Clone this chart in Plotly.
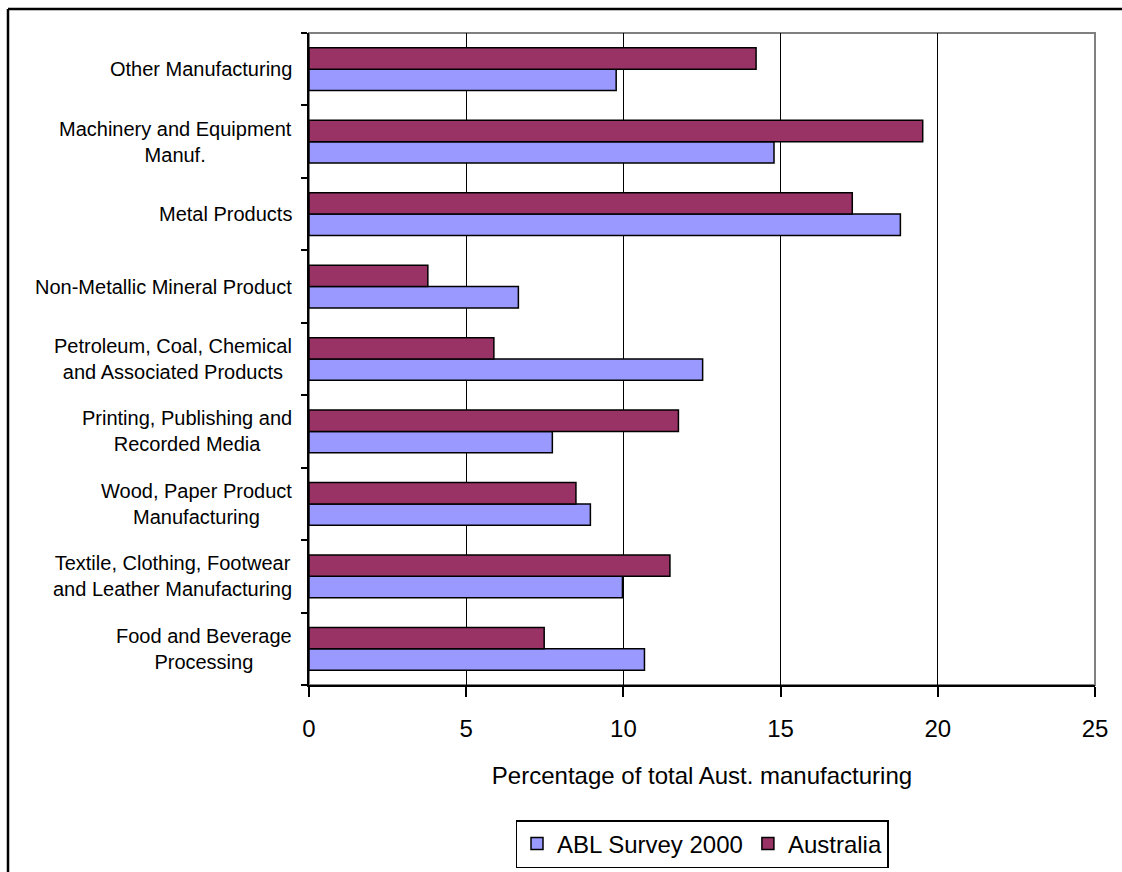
import plotly.graph_objects as go

categories = [
    "Food and Beverage<br>Processing",
    "Textile, Clothing, Footwear<br>and Leather Manufacturing",
    "Wood, Paper Product<br>Manufacturing",
    "Printing, Publishing and<br>Recorded Media",
    "Petroleum, Coal, Chemical<br>and Associated Products",
    "Non-Metallic Mineral Product",
    "Metal Products",
    "Machinery and Equipment<br>Manuf.",
    "Other Manufacturing",
]
abl_survey_2000 = [10.67, 9.97, 8.95, 7.74, 12.52, 6.66, 18.81, 14.79, 9.77]
australia = [7.48, 11.48, 8.49, 11.75, 5.88, 3.78, 17.28, 19.52, 14.22]
x_ticks = [0, 5, 10, 15, 20, 25]

FONT = "Liberation Sans, Arial, sans-serif"

fig = go.Figure()
fig.add_trace(go.Bar(
    y=categories, x=abl_survey_2000, orientation="h", name="ABL Survey 2000",
    marker=dict(color="#9999FF", line=dict(color="black", width=1.5)),
))
fig.add_trace(go.Bar(
    y=categories, x=australia, orientation="h", name="Australia",
    marker=dict(color="#993366", line=dict(color="black", width=1.5)),
))

W, H = 1122, 872
L, R, T, B = 309, 27, 33, 187
pw, ph = W - L - R, H - T - B

for c in categories:
    fig.add_annotation(
        x=0, xref="paper", y=c, yref="y", text=c, showarrow=False,
        xanchor="right", xshift=-15, align="center",
        font=dict(family=FONT, size=20, color="black"),
    )

# plot-area border (gray)
fig.add_shape(type="rect", xref="paper", yref="paper", x0=0, x1=1, y0=0, y1=1,
              line=dict(color="#808080", width=2), layer="between")
# outer chart border (only top and left visible, like the source)
fig.add_shape(type="line", xref="paper", yref="paper",
              x0=(8 - L) / pw, x1=(W + 20 - L) / pw,
              y0=(T + ph - 9) / ph, y1=(T + ph - 9) / ph,
              line=dict(color="black", width=2.5), layer="above")
fig.add_shape(type="line", xref="paper", yref="paper",
              x0=(8 - L) / pw, x1=(8 - L) / pw,
              y0=(T + ph - (H + 20)) / ph, y1=(T + ph - 9) / ph,
              line=dict(color="black", width=2.5), layer="above")

fig.update_layout(
    width=W, height=H,
    margin=dict(l=L, r=R, t=T, b=B, pad=0, autoexpand=False),
    paper_bgcolor="white", plot_bgcolor="white",
    barmode="group", bargap=0.41, bargroupgap=0,
    font=dict(family=FONT, size=24, color="black"),
    showlegend=True,
    legend=dict(
        orientation="h", x=0.5, xanchor="center",
        yref="container", y=(H - 820) / H, yanchor="top",
        bordercolor="black", borderwidth=1.5, bgcolor="white",
        font=dict(family=FONT, size=24, color="black"),
        itemwidth=30, tracegroupgap=0,
    ),
    xaxis=dict(
        range=[0, 25], tickvals=x_ticks, ticktext=[str(v) for v in x_ticks],
        showgrid=True, gridcolor="black", gridwidth=1.2,
        showline=True, linecolor="black", linewidth=1.5,
        ticks="outside", ticklen=10, tickcolor="black", tickwidth=1.5,
        ticklabelstandoff=11,
        tickfont=dict(family=FONT, size=24, color="black"),
        zeroline=False,
        title=dict(text="Percentage of total Aust. manufacturing",
                   font=dict(family=FONT, size=24, color="black"), standoff=27),
    ),
    yaxis=dict(
        type="category", categoryorder="array", categoryarray=categories,
        showticklabels=False, tickson="boundaries",
        ticks="outside", ticklen=6, tickcolor="black", tickwidth=1.5,
        showline=True, linecolor="black", linewidth=1.5,
        showgrid=False, zeroline=False,
    ),
)

fig.write_html("out.html", config={"displayModeBar": False},
               post_script="document.body.style.margin='0';document.body.style.overflow='hidden';")
